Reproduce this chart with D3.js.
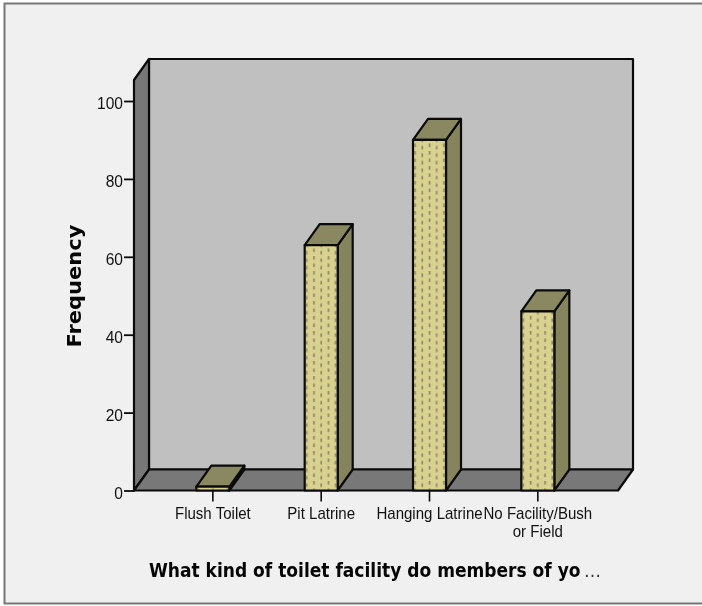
<!DOCTYPE html>
<html><head><meta charset="utf-8">
<script src="https://cdn.jsdelivr.net/npm/d3@7"></script>
<style>html,body{margin:0;padding:0;background:#fff;overflow:hidden}svg{display:block;filter:blur(0.35px)}</style>
</head><body><div id="c"></div>
<script>
const categories = [["Flush Toilet"],["Pit Latrine"],["Hanging Latrine"],["No Facility/Bush","or Field"]];
const frequency = [1, 63, 90, 46];
const yTicks = [0, 20, 40, 60, 80, 100];
const xTitle = "What kind of toilet facility do members of yo";
const xTitleEllipsis = "\u2026";
const yTitle = "Frequency";

const W = 702, H = 606;
const dx = 15, dy = -21, barW = 33;
const x = d3.scaleBand().domain(categories.map(c => c.join(" "))).range([158.7, 592]);
const y = d3.scaleLinear().domain([0, 100]).range([490.5, 101]);
const pLeft = 134, pRight = 618, pBottom = y(0), pTop = 80;
const ink = "#0a0a0a";

const svg = d3.select("#c").append("svg").attr("width", W).attr("height", H);
const defs = svg.append("defs");
const tileW = x.bandwidth() / 15, tileH = 7.5;
const cx0 = x(categories[0].join(" ")) + x.bandwidth() / 2;
const pat = defs.append("pattern").attr("id", "dots").attr("patternUnits", "userSpaceOnUse")
  .attr("width", tileW * 2).attr("height", tileH).attr("x", cx0 - tileW / 2).attr("y", 0);
pat.append("rect").attr("width", tileW * 2).attr("height", tileH).attr("fill", "#d8d190");
pat.append("rect").attr("x", tileW / 2 - 0.8).attr("y", 1).attr("width", 1.6).attr("height", 3.6).attr("fill", "#8a8764");
pat.append("rect").attr("x", tileW * 1.5 - 0.8).attr("y", 3.4).attr("width", 1.6).attr("height", 3.6).attr("fill", "#8a8764");

svg.append("rect").attr("x", 0).attr("y", 0).attr("width", W).attr("height", H).attr("fill", "#fff");
svg.append("rect").attr("x", 4.5).attr("y", 3.5).attr("width", W + 5).attr("height", 600)
  .attr("fill", "#f0f0f0").attr("stroke", "#777").attr("stroke-width", 2);

const poly = (pts, fill, sw = 2.2) => svg.append("path")
  .attr("d", d3.line()(pts) + "Z").attr("fill", fill).attr("stroke", ink)
  .attr("stroke-width", sw).attr("stroke-linejoin", "round");

// walls
poly([[pLeft+dx, pTop+dy],[pRight+dx, pTop+dy],[pRight+dx, pBottom+dy],[pLeft+dx, pBottom+dy]], "#c0c0c0");
poly([[pLeft, pTop],[pLeft+dx, pTop+dy],[pLeft+dx, pBottom+dy],[pLeft, pBottom]], "#787878");
poly([[pLeft, pBottom],[pLeft+dx, pBottom+dy],[pRight+dx, pBottom+dy],[pRight, pBottom]], "#787878");

// bars
categories.forEach((c, i) => {
  const cx = x(c.join(" ")) + x.bandwidth() / 2;
  const a = cx - barW / 2, b = cx + barW / 2, t = y(frequency[i]);
  poly([[b, t],[b+dx, t+dy],[b+dx, pBottom+dy],[b, pBottom]], "#86845c");
  poly([[a, t],[a+dx, t+dy],[b+dx, t+dy],[b, t]], "#8a8860");
  poly([[a, t],[b, t],[b, pBottom],[a, pBottom]], "url(#dots)");
});

// y axis
const font = "'Liberation Sans', Arial, sans-serif";
const boldFont = "'DejaVu Sans', Verdana, sans-serif";
const yAxis = d3.axisLeft(y).tickValues(yTicks).tickSize(10).tickPadding(1).tickSizeOuter(0);
const gy = svg.append("g").attr("transform", `translate(${pLeft},0)`).call(yAxis);
gy.select(".domain").remove();
gy.selectAll("line").attr("stroke", ink).attr("stroke-width", 1.8);
gy.selectAll("text").attr("font-family", font).attr("font-size", 16.4).attr("fill", "#111")
  .attr("dy", "0.47em").attr("x", -11 / 0.95).attr("transform", "scale(0.95,1)");

// x axis
const xAxis = d3.axisBottom(x).tickSize(11).tickFormat("").tickSizeOuter(0);
const gx = svg.append("g").attr("transform", `translate(0,${pBottom})`).call(xAxis);
gx.select(".domain").remove();
gx.selectAll("line").attr("stroke", ink).attr("stroke-width", 1.6);
categories.forEach(c => {
  const cx = x(c.join(" ")) + x.bandwidth() / 2;
  c.forEach((ln, j) => {
    svg.append("text").attr("transform", `translate(${cx},${519.3 + j * 18}) scale(0.93,1)`)
      .attr("text-anchor", "middle")
      .attr("font-family", font).attr("font-size", 16.2).attr("fill", "#111").text(ln);
  });
});

// titles: squeezed to the reference's measured widths
const squeezed = (str, size, targetW, place) => {
  const t = svg.append("text").attr("font-family", boldFont).attr("font-size", size)
    .attr("font-weight", "bold").attr("fill", "#050505").text(str);
  const k = targetW / t.node().getComputedTextLength();
  t.attr("transform", place(k));
  return t;
};
squeezed(xTitle, 20, 432, k => `translate(149,576.5) scale(${k},1)`);
svg.append("text").attr("x", 584).attr("y", 576.5)
  .attr("font-family", boldFont).attr("font-size", 17).attr("fill", "#333").text(xTitleEllipsis);
squeezed(yTitle, 19, 123, k => `translate(81,347.5) rotate(-90) scale(${k},1)`);
</script></body></html>
